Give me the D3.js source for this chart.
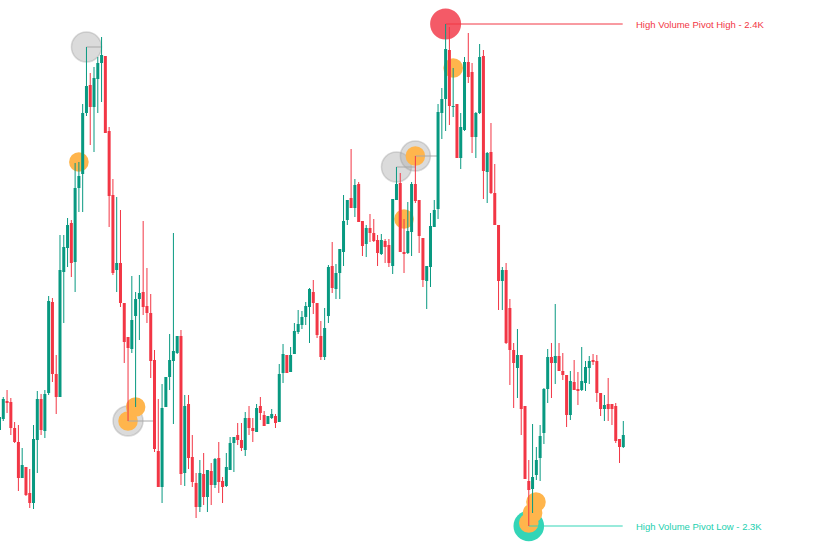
<!DOCTYPE html>
<html>
<head>
<meta charset="utf-8">
<script src="https://cdn.jsdelivr.net/npm/d3@7"></script>
<style>
  html, body { margin: 0; padding: 0; background: #fff; }
  svg { display: block; }
</style>
</head>
<body>
<svg id="chart"></svg>
<script>
// candle data, one entry per bar (left to right)
const opens = [
  2324, 2326.2, 2329.8, 2329.6, 2324.4, 2321.6, 2314.4, 2316.6, 2311.4, 2309.4,
  2322, 2330.2, 2323.8, 2331.4, 2349.6, 2335.2, 2330.6, 2355.6, 2360.4, 2365.4,
  2357.6, 2372.4, 2375.2, 2387.4, 2393, 2388.6, 2394.2, 2397.4, 2398.8, 2383.8,
  2371, 2356, 2357.4, 2349.4, 2342.6, 2340.2, 2346.8, 2350.2, 2351.6, 2348.8,
  2347.4, 2338, 2319.8, 2312.6, 2328.6, 2334.6, 2337.8, 2339.4, 2342.8, 2315.4,
  2329.2, 2318.6, 2313.4, 2308.6, 2315.2, 2310.6, 2315.8, 2313, 2318.4, 2313.8,
  2312.8, 2316, 2321.4, 2323, 2322, 2320, 2326.4, 2324.4, 2323.6, 2328.8,
  2327, 2325.2, 2326.4, 2326.8, 2325.6, 2335.4, 2339, 2335.6, 2339.2, 2343.6,
  2345, 2346.6, 2348.6, 2351.6, 2349.4, 2342.8, 2338.6, 2346.8, 2356.8, 2352.2,
  2355.4, 2359.6, 2366, 2370.4, 2368.4, 2373.2, 2365.8, 2361.2, 2364.4, 2363.4,
  2362, 2359.2, 2361.8, 2361, 2356.8, 2370, 2373.4, 2359.6, 2359.4, 2363.6,
  2373.2, 2370, 2362.4, 2353.8, 2356.6, 2364.6, 2368.2, 2387.4, 2390.2, 2400,
  2388.6, 2389.2, 2378.4, 2384, 2397.6, 2395.6, 2382.6, 2387.4, 2398.8, 2375.6,
  2379.6, 2371.4, 2365, 2353.8, 2356, 2348.4, 2340, 2336.4, 2339, 2328.8,
  2313.8, 2312.2, 2315, 2318.4, 2323.4, 2332.2, 2338.6, 2337.4, 2338.8, 2335.8,
  2335, 2327, 2333.6, 2332.2, 2332, 2333.4, 2336.4, 2338, 2337.8, 2331.4,
  2328.2, 2329.2, 2329.2, 2328.8, 2322.2, 2320.6
]
const highs = [
  2327.2, 2330.6, 2332, 2330.4, 2325.6, 2325, 2320.4, 2316.6, 2316.2, 2325,
  2331.8, 2331.2, 2332, 2350.8, 2350.4, 2339, 2363, 2363, 2366.4, 2366,
  2377.4, 2377.6, 2389.2, 2400.6, 2395.4, 2396.6, 2398.6, 2402.6, 2398.8, 2384.6,
  2374.2, 2370.6, 2368, 2349.4, 2342.6, 2354.8, 2351.6, 2355, 2365.8, 2356.4,
  2351.2, 2340, 2330.2, 2333.2, 2334.6, 2343.2, 2363.4, 2342.8, 2344, 2331,
  2331, 2323, 2315.4, 2318, 2319.4, 2316, 2317.4, 2318.4, 2321.6, 2314.6,
  2319.4, 2322.6, 2322.6, 2325.4, 2325.4, 2327.6, 2328.8, 2326.4, 2329.2, 2330.6,
  2327.8, 2326.8, 2328.2, 2327.2, 2337.2, 2341.2, 2339, 2340.6, 2345.4, 2348,
  2347.8, 2349.6, 2352.4, 2354, 2349.4, 2345.8, 2348.4, 2357, 2361.6, 2357.2,
  2360.2, 2371, 2370, 2380.2, 2374.2, 2373.6, 2365.8, 2365, 2367.2, 2366.2,
  2363, 2363.2, 2362.2, 2362.2, 2370.2, 2376.6, 2375.4, 2366.2, 2369.6, 2373.6,
  2378.8, 2370, 2362.4, 2356.8, 2367.4, 2370, 2389.2, 2392.4, 2405.2, 2404.6,
  2396.4, 2389.2, 2387.4, 2398.6, 2403.4, 2397.4, 2387.6, 2401.2, 2400, 2379.6,
  2385.4, 2377.2, 2365, 2356.6, 2357.4, 2350.2, 2341.4, 2344.2, 2339, 2328.8,
  2318, 2325.2, 2320.6, 2325, 2332.4, 2340.2, 2341.4, 2349.2, 2341.4, 2339.4,
  2335, 2335.8, 2338, 2335.6, 2340.6, 2337.8, 2338.8, 2339.2, 2339, 2331.4,
  2331, 2334.4, 2329.2, 2329.4, 2322.2, 2325.8
]
const lows = [
  2323.6, 2325.8, 2327.4, 2323, 2321.4, 2311.8, 2314.4, 2310.8, 2308.4, 2308.2,
  2315.4, 2323, 2322.4, 2331, 2333.6, 2327.2, 2330.6, 2345.4, 2356.6, 2354.6,
  2351.6, 2367.6, 2367.6, 2386.8, 2381, 2379.6, 2387.4, 2389.6, 2383.4, 2364.6,
  2355, 2351.6, 2348.6, 2337.4, 2325.8, 2339.4, 2328.6, 2342, 2347, 2345.4,
  2334.4, 2319.6, 2312.6, 2309.4, 2328.6, 2332, 2325.2, 2339.2, 2313, 2312.8,
  2316.2, 2312.6, 2306.4, 2307.6, 2309, 2307.6, 2309, 2312.4, 2311.4, 2309.4,
  2312.6, 2316, 2315.6, 2321, 2319.8, 2318.8, 2323, 2321.6, 2323.6, 2326,
  2324.8, 2325.2, 2326.2, 2324.4, 2325.6, 2333.4, 2335.4, 2335.6, 2339.2, 2343.2,
  2344.2, 2345, 2341.4, 2347.2, 2342.4, 2338, 2338, 2345.4, 2351.4, 2350.2,
  2350.2, 2356.8, 2365, 2368.4, 2366.6, 2365.6, 2358.8, 2358.6, 2361.6, 2361.6,
  2356.8, 2359, 2357.4, 2356.6, 2355.2, 2370, 2359.6, 2355.4, 2359.2, 2358.8,
  2369.4, 2359.4, 2352.6, 2348.2, 2352.6, 2364.6, 2366.2, 2382.2, 2383.8, 2385,
  2386.6, 2378.4, 2376.2, 2383.8, 2393.4, 2379.4, 2378.4, 2387.2, 2370.2, 2369.4,
  2371.2, 2365, 2348, 2348, 2341.2, 2333, 2328.4, 2330.4, 2323, 2314.2,
  2304.8, 2307.4, 2314, 2313.8, 2321.2, 2329.4, 2330.4, 2333.2, 2335.8, 2334,
  2324.6, 2326, 2332, 2329, 2331.8, 2331.8, 2333.2, 2337, 2329.6, 2326.8,
  2325.8, 2325.8, 2325, 2321.4, 2317.4, 2320.4
]
const closes = [
  2326.6, 2330.2, 2329.4, 2324.4, 2321.6, 2314.4, 2317, 2311, 2309.4, 2322.2,
  2330.2, 2324, 2331.2, 2349.8, 2335.2, 2330.6, 2356, 2360.6, 2365, 2357.4,
  2372.4, 2374.8, 2387.4, 2392.8, 2388.6, 2394.4, 2397.4, 2399, 2383.4, 2370.8,
  2355.4, 2357.4, 2349.4, 2341.6, 2340.4, 2346, 2350.2, 2351.4, 2348.6, 2347.4,
  2337.8, 2320.2, 2312.6, 2328.4, 2334.6, 2338, 2339.8, 2342.8, 2315.2, 2328.8,
  2318.4, 2313.6, 2308.6, 2315.4, 2310.6, 2316, 2313, 2318.2, 2313.6, 2312.6,
  2316.6, 2321.4, 2322.6, 2322, 2320.4, 2326.4, 2324.4, 2323.8, 2328.4, 2327.4,
  2324.8, 2326.8, 2327.2, 2325.4, 2335.2, 2339.2, 2335.4, 2339, 2343.8, 2345.2,
  2346.6, 2348.8, 2352.2, 2349.4, 2343, 2338.6, 2344.4, 2356.6, 2352.4, 2355.4,
  2360.2, 2365.8, 2370, 2368.4, 2373, 2365.6, 2360.8, 2364.4, 2363.4, 2361.8,
  2359.4, 2362, 2360.6, 2357.4, 2370.2, 2373.2, 2359.6, 2359.2, 2363.8, 2373.2,
  2369.8, 2362.8, 2354, 2356.8, 2364.8, 2368, 2387.6, 2390.2, 2400.2, 2388.8,
  2388.8, 2378.4, 2384.6, 2397.6, 2394.6, 2382.6, 2387.4, 2398.6, 2375.8, 2379.4,
  2371.4, 2365, 2353.8, 2356, 2341.4, 2340, 2337.4, 2339, 2328.2, 2314.2,
  2312, 2314.6, 2318, 2322.8, 2332.2, 2338.6, 2337.4, 2338.8, 2335.8, 2335,
  2327, 2333.8, 2332, 2331.8, 2333.8, 2336.6, 2337.8, 2337.6, 2331.4, 2328.2,
  2329, 2328.2, 2328.2, 2321.8, 2320.6, 2323
]

// low volume pivots (grey), bar index + which side
const greyIdx = [23, 34, 105, 110]
const greySide = ['high', 'low', 'high', 'high']
// small orange pivot markers
const orangeIdx = [21, 34, 36, 107, 110, 120, 140, 141, 141.9]
const orangePrice = [2377.6, 2325.8, 2328.6, 2366.2, 2378.8, 2396.4, 2305.4, 2307.4, 2309.6]

const upColor = '#089981', downColor = '#f23645'
const lowColor = '#33d5b7'

const width = 830, height = 550
const svg = d3.select('#chart').attr('width', width).attr('height', height)

const n = opens.length
const x = d3.scaleLinear().domain([0, n - 1]).range([-0.5, 623.3])
const y = d3.scaleLinear().domain([2410, 2300]).range([0, 550])

let candles = d3.range(n).map(i => ({i: i, o: opens[i], h: highs[i], l: lows[i], c: closes[i]}))

// where a pivot line stops: first later bar that trades through the level
function lineEnd(idx, side) {
    let p = side == 'high' ? highs[idx] : lows[idx]
    for (let k = idx + 1; k < n; k++) {
        if (side == 'high' && highs[k] > p) return x(k)
        if (side == 'low' && lows[k] < p) return x(k)
    }
    return x(n - 1) - 0.6
}

let gCircles = svg.append('g')
let gLines = svg.append('g')

// grey pivots
greyIdx.forEach((idx, j) => {
    let p = greySide[j] == 'high' ? highs[idx] : lows[idx]
    gCircles.append('circle')
        .attr('cx', x(idx)).attr('cy', y(p)).attr('r', 15)
        .attr('fill', 'rgba(175,175,175,0.45)')
        .attr('stroke', 'rgba(150,150,150,0.35)')
        .attr('stroke-width', 1.5)
    gLines.append('line')
        .attr('x1', x(idx)).attr('x2', lineEnd(idx, greySide[j]))
        .attr('y1', y(p)).attr('y2', y(p))
        .attr('stroke', '#a9a9a9').attr('stroke-width', 1)
})

// high volume pivot high / low
let hiIdx = d3.maxIndex(highs), loIdx = d3.minIndex(lows)
gCircles.append('circle')
    .attr('cx', x(hiIdx)).attr('cy', y(highs[hiIdx])).attr('r', 15.5)
    .attr('fill', '#f23645').attr('fill-opacity', 0.82)
gCircles.append('circle')
    .attr('cx', x(loIdx)).attr('cy', y(lows[loIdx])).attr('r', 15.3)
    .attr('fill', lowColor)

gCircles.selectAll('circle.orange')
    .data(orangeIdx)
    .enter()
    .append('circle')
    .attr('class', 'orange')
    .attr('cx', d => x(d))
    .attr('cy', (d, i) => y(orangePrice[i]))
    .attr('r', 9.8)
    .attr('fill', '#ffb54c')

gLines.append('line')
    .attr('x1', x(hiIdx)).attr('x2', lineEnd(hiIdx, 'high'))
    .attr('y1', y(highs[hiIdx])).attr('y2', y(highs[hiIdx]))
    .attr('stroke', '#f23645').attr('stroke-width', 1)
gLines.append('line')
    .attr('x1', x(loIdx)).attr('x2', lineEnd(loIdx, 'low'))
    .attr('y1', y(lows[loIdx])).attr('y2', y(lows[loIdx]))
    .attr('stroke', lowColor).attr('stroke-width', 1)

const fmt = v => d3.format('.2s')(v).toUpperCase()
svg.append('text')
    .attr('x', 636).attr('y', y(highs[hiIdx]) + 0.5)
    .attr('dominant-baseline', 'central')
    .attr('font-family', 'Liberation Sans, Arial, sans-serif')
    .attr('font-size', 9.5)
    .attr('fill', '#f23645')
    .text('High Volume Pivot High - ' + fmt(highs[hiIdx]))
svg.append('text')
    .attr('x', 636).attr('y', y(lows[loIdx]) + 0.5)
    .attr('dominant-baseline', 'central')
    .attr('font-family', 'Liberation Sans, Arial, sans-serif')
    .attr('font-size', 9.5)
    .attr('fill', '#22cfae')
    .text('High Volume Pivot Low - ' + fmt(lows[loIdx]))

// candles on top
let gC = svg.append('g')
let bars = gC.selectAll('g.candle')
    .data(candles)
    .enter()
    .append('g')
    .attr('class', 'candle')

bars.append('line')
    .attr('x1', d => x(d.i)).attr('x2', d => x(d.i))
    .attr('y1', d => y(d.h)).attr('y2', d => y(d.l))
    .attr('stroke', d => d.c >= d.o ? upColor : downColor)
    .attr('stroke-width', 1)

bars.append('rect')
    .attr('x', d => x(d.i) - 1.5)
    .attr('width', 3)
    .attr('y', d => y(Math.max(d.o, d.c)))
    .attr('height', d => Math.max(1, Math.abs(y(d.o) - y(d.c))))
    .attr('fill', d => d.c >= d.o ? upColor : downColor)
</script>
</body>
</html>
